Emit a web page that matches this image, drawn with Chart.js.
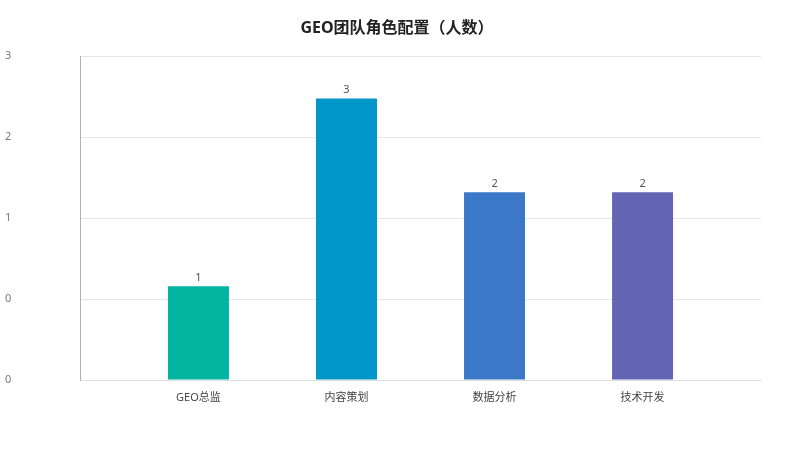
<!DOCTYPE html>
<html><head><meta charset="utf-8">
<script src="https://cdn.jsdelivr.net/npm/chart.js@4/dist/chart.umd.min.js"></script>
<style>html,body{margin:0;padding:0;background:#fff}#wrap{width:800px;height:450px}</style>
</head><body><div id="wrap"><canvas id="c"></canvas></div>
<script>
const categories = ['GEO总监', '内容策划', '数据分析', '技术开发'];
const values = [1, 3, 2, 2];
const colors = ['#00B4A0', '#0097C8', '#3C78C8', '#6464B4'];
const yMax = 3.45;
const yTickCount = 4;

const FONT = "'Noto Sans', 'Noto Sans CJK SC', sans-serif";

const valueLabels = {
  id: 'valueLabels',
  afterLayout(chart) {
    // centre the title on the page rather than on the padded box
    if (chart.titleBlock) { chart.titleBlock.left = 33; chart.titleBlock.right = 761; }
  },
  afterDatasetsDraw(chart) {
    const ctx = chart.ctx;
    const meta = chart.getDatasetMeta(0);
    ctx.save();
    ctx.font = "11px " + FONT;
    ctx.fillStyle = '#555';
    ctx.textAlign = 'center';
    ctx.textBaseline = 'bottom';
    meta.data.forEach((el, i) => {
      ctx.fillText(String(values[i]), el.x, el.y - 3);
    });
    ctx.restore();
  }
};

new Chart(document.getElementById('c'), {
  type: 'bar',
  data: {
    datasets: [{
      data: values.map((v, i) => ({x: i, y: v})),
      backgroundColor: colors,
      barPercentage: 0.412,
      categoryPercentage: 1
    }]
  },
  options: {
    responsive: true,
    maintainAspectRatio: false,
    animation: false,
    layout: {padding: {left: 5, right: 39, top: 0, bottom: 0}},
    plugins: {
      legend: {display: false},
      tooltip: {enabled: false},
      title: {
        display: true,
        text: 'GEO团队角色配置（人数）',
        color: '#222',
        font: {family: FONT, size: 16, weight: 'bold'},
        padding: {top: 19, bottom: 18}
      }
    },
    scales: {
      x: {
        type: 'linear',
        min: -0.8,
        max: 3.8,
        offset: false,
        grid: {display: false, drawTicks: false, offset: false},
        border: {display: true, color: '#e0e0e0'},
        afterBuildTicks: axis => { axis.ticks = categories.map((_, i) => ({value: i})); },
        afterFit: s => { s.height = 70; },
        ticks: {
          autoSkip: false,
          maxRotation: 0,
          padding: 11,
          color: '#444',
          font: {family: FONT, size: 11},
          callback: v => categories[v] ?? ''
        }
      },
      y: {
        min: 0,
        max: yMax,
        afterBuildTicks: axis => {
          const t = [];
          for (let i = 0; i <= yTickCount; i++) t.push({value: yMax * i / yTickCount});
          axis.ticks = t;
        },
        afterFit: s => { s.width = 75; },
        grid: {color: '#e6e6e6', drawTicks: false},
        border: {display: true, color: '#b0b0b0'},
        ticks: {
          crossAlign: 'far',
          padding: 8,
          color: '#777',
          font: {family: FONT, size: 11},
          callback: v => String(Math.floor(v))
        }
      }
    }
  },
  plugins: [valueLabels]
});
</script></body></html>
